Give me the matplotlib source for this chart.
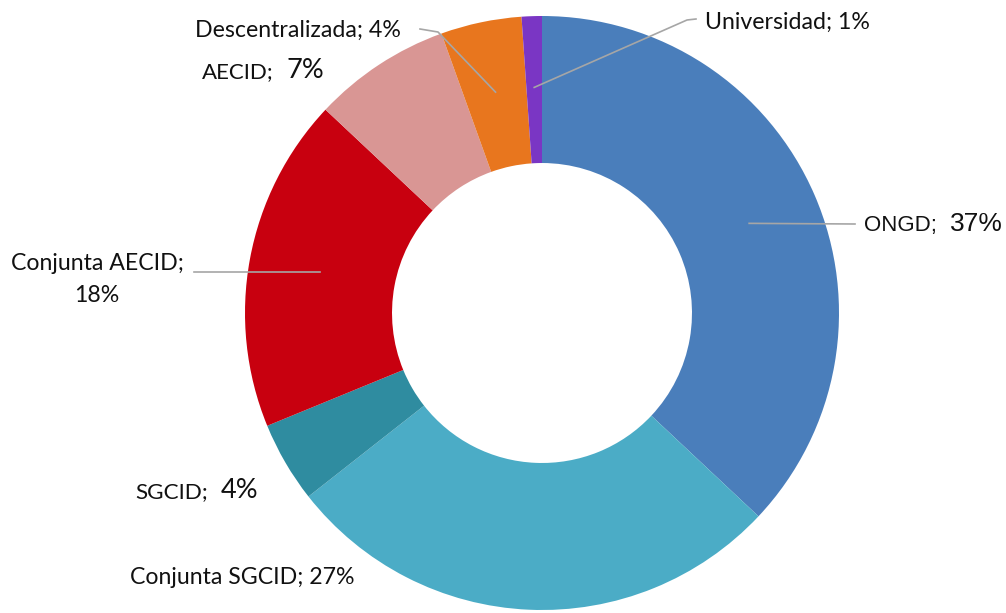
import matplotlib
matplotlib.use("Agg")
import matplotlib.pyplot as plt
import numpy as np

categories = ["ONGD", "Conjunta SGCID", "SGCID", "Conjunta AECID", "AECID",
              "Descentralizada", "Universidad"]
values = [37.0, 27.4, 4.4, 18.2, 7.5, 4.4, 1.1]
pct_labels = ["37%", "27%", "4%", "18%", "7%", "4%", "1%"]
colors = ["#4A7EBB", "#4BACC6", "#2F8CA0", "#C8000F", "#D99694", "#E8761E", "#7A36C4"]

W, H = 1006, 613
fig = plt.figure(figsize=(W / 100, H / 100), dpi=100)
ax = fig.add_axes([0, 0, 1, 1])

cx, cy, R = 542, 300, 297
wedges, _ = ax.pie(values, colors=colors, startangle=90, counterclock=False,
                   radius=R, center=(cx, cy),
                   wedgeprops=dict(width=R * 0.495, linewidth=0))
ax.set_xlim(0, W)
ax.set_ylim(0, H)
ax.set_aspect("equal")
ax.axis("off")

def anchor(i, frac=0.76):
    w = wedges[i]
    m = np.deg2rad((w.theta1 + w.theta2) / 2)
    return cx + frac * R * np.cos(m), cy + frac * R * np.sin(m)

def Y(y_top):
    return H - y_top

lc = "#A6A6A6"
calibri = "Lato"
arial = "Liberation Sans"
fs = 16.7
big = 19.5
tc = "#111111"

# ONGD
ax_, ay_ = anchor(0)
ax.plot([ax_, 855], [ay_, Y(224)], color=lc, lw=1.2)
ax.text(864, Y(225), categories[0] + ";", family=arial, fontsize=16, color=tc, va="center", ha="left")
ax.text(950, Y(224), pct_labels[0], family=arial, fontsize=19, color=tc, va="center", ha="left")

# Conjunta SGCID
ax.text(130, Y(578), categories[1] + "; " + pct_labels[1], family=calibri, fontsize=fs,
        color=tc, va="center", ha="left")

# SGCID
ax.text(135, Y(492), categories[2] + ";", family=calibri, fontsize=fs - 0.5, color=tc, va="center", ha="left")
ax.text(221, Y(490), pct_labels[2], family=calibri, fontsize=big, color=tc, va="center", ha="left")

# Conjunta AECID
ax_, ay_ = anchor(3)
ax.plot([ax_, 194], [ay_, ay_], color=lc, lw=1.2)
ax.text(97, Y(264), categories[3] + ";", family=calibri, fontsize=fs, color=tc, va="center", ha="center")
ax.text(97, Y(296), pct_labels[3], family=calibri, fontsize=fs, color=tc, va="center", ha="center")

# AECID
ax.text(202, Y(72), categories[4] + ";", family=calibri, fontsize=fs - 0.7, color=tc, va="center", ha="left")
ax.text(287, Y(70), pct_labels[4], family=calibri, fontsize=big, color=tc, va="center", ha="left")

# Descentralizada
ax_, ay_ = anchor(5)
ax.plot([ax_, 438, 420], [ay_, Y(32), Y(29)], color=lc, lw=1.2)
ax.text(401, Y(30), categories[5] + "; " + pct_labels[5], family=calibri, fontsize=fs,
        color=tc, va="center", ha="right")

# Universidad
ax_, ay_ = anchor(6)
ax.plot([ax_, 687, 696], [ay_, Y(20), Y(19)], color=lc, lw=1.2)
ax.text(705, Y(22), categories[6] + "; " + pct_labels[6], family=calibri, fontsize=fs,
        color=tc, va="center", ha="left")

fig.savefig("out.png", dpi=100, facecolor="white")
